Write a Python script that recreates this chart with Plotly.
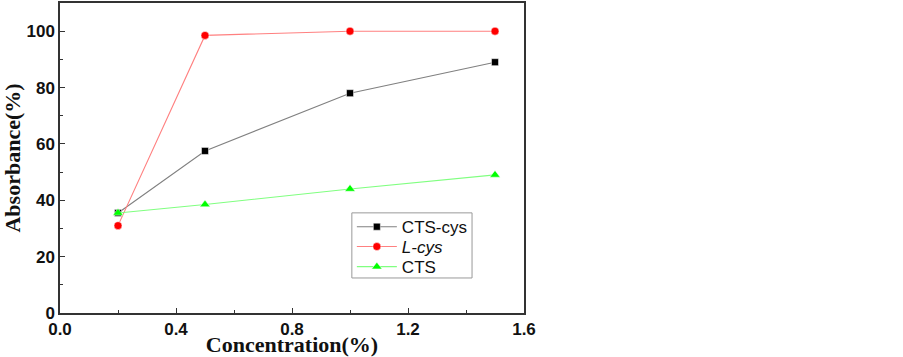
import plotly.graph_objects as go

conc = [0.2, 0.5, 1.0, 1.5]
cts_cys = [35.5, 57.5, 78.0, 89.0]
l_cys = [31.0, 98.5, 100.0, 100.0]
cts = [35.5, 38.5, 44.0, 49.0]

fig = go.Figure()
fig.add_trace(go.Scatter(x=conc, y=cts_cys, name="CTS-cys", mode="lines+markers", legend="legend",
                         line=dict(color="#808080", width=1.1),
                         marker=dict(symbol="square", color="black", size=7,
                                     line=dict(color="white", width=0.5))))
fig.add_trace(go.Scatter(x=conc, y=l_cys, name="<i>L-cys</i>", mode="lines+markers", legend="legend2",
                         line=dict(color="#ff8080", width=1.1),
                         marker=dict(symbol="circle", color="red", size=8,
                                     line=dict(color="white", width=0.5))))
fig.add_trace(go.Scatter(x=conc, y=cts, name="CTS", mode="lines+markers", legend="legend3",
                         line=dict(color="#80ff80", width=1.1),
                         marker=dict(symbol="triangle-up", color="#00ff00", size=9,
                                     line=dict(color="white", width=0.5))))

axis_common = dict(showline=True, linecolor="#333333", linewidth=1.5, mirror=True,
                   ticks="inside", ticklen=5, tickwidth=1.2, tickcolor="#333333",
                   showgrid=False, zeroline=False, automargin=False,
                   tickfont=dict(family="Liberation Sans", size=17, color="#111111", weight="bold"))

fig.update_xaxes(range=[0, 1.6], tickvals=[0.0, 0.4, 0.8, 1.2, 1.6],
                 ticktext=["0.0", "0.4", "0.8", "1.2", "1.6"],
                 minor=dict(tickvals=[0.2, 0.6, 1.0, 1.4], ticks="inside", ticklen=3, tickcolor="#333333"),
                 title=dict(text="Concentration(%)", standoff=0,
                            font=dict(family="Liberation Serif", size=22, color="#111111", weight="bold")),
                 **axis_common)
fig.update_yaxes(range=[0, 110], tickvals=[0, 20, 40, 60, 80, 100],
                 minor=dict(tickvals=[10, 30, 50, 70, 90], ticks="inside", ticklen=3, tickcolor="#333333"),
                 title=dict(text="Absorbance(%)", standoff=5,
                            font=dict(family="Liberation Serif", size=22, color="#111111", weight="bold")),
                 **axis_common)

leg_font = dict(family="Liberation Sans", size=17, color="#111111")
leg_common = dict(x=0.629, xanchor="left", yanchor="middle", bgcolor="rgba(0,0,0,0)",
                  borderwidth=0, font=leg_font, itemwidth=40)

fig.update_layout(width=903, height=357, margin=dict(l=60, r=379, t=3, b=44),
                  plot_bgcolor="white", paper_bgcolor="white",
                  legend=dict(y=0.277, **leg_common),
                  legend2=dict(y=0.213, **leg_common),
                  legend3=dict(y=0.148, **leg_common),
                  showlegend=True)

fig.add_shape(type="rect", xref="paper", yref="paper", x0=0.629, x1=0.888, y0=0.113, y1=0.323,
              line=dict(color="#999999", width=1), fillcolor="rgba(0,0,0,0)", layer="above")

fig.write_html("out.html", config={"displayModeBar": False},
               post_script="document.body.style.margin='0';")
